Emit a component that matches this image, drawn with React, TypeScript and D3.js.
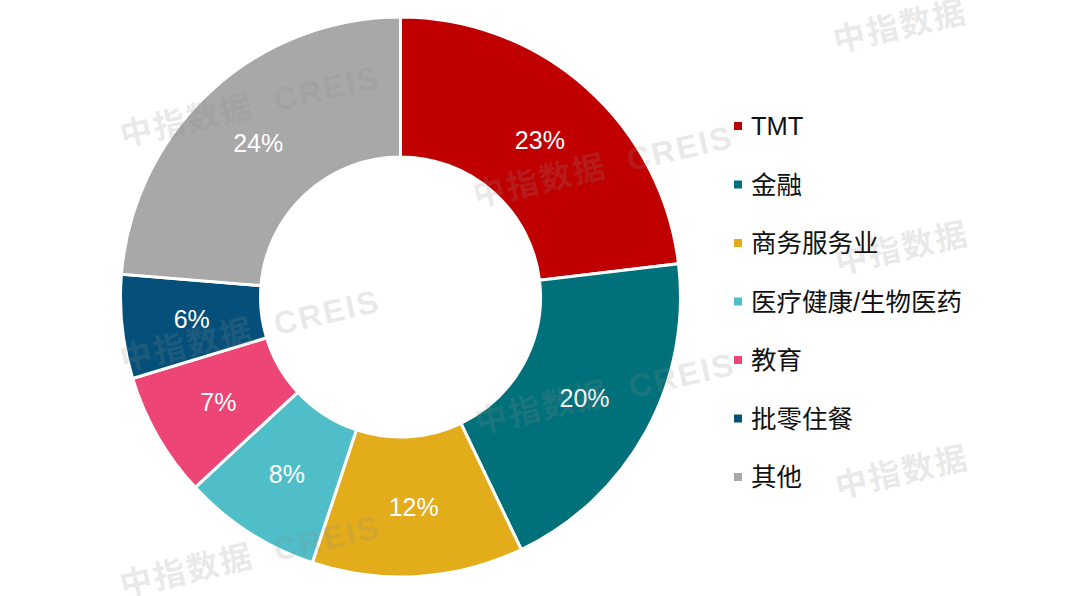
import React from "react";
import * as d3 from "d3";

const categories = ["TMT", "金融", "商务服务业", "医疗健康/生物医药", "教育", "批零住餐", "其他"];
const shares = [23.1, 19.8, 12.2, 8.0, 7.2, 6.0, 23.7];
const labels = ["23%", "20%", "12%", "8%", "7%", "6%", "24%"];
const colors = ["#C00000", "#00707A", "#E2AC1B", "#50BEC8", "#EE4577", "#04507A", "#A8A8A8"];

const watermarks = [
  { x: 250, y: 106, t: "中指数据  CREIS" },
  { x: 603, y: 166, t: "中指数据  CREIS" },
  { x: 250, y: 330, t: "中指数据  CREIS" },
  { x: 605, y: 393, t: "中指数据  CREIS" },
  { x: 250, y: 556, t: "中指数据  CREIS" },
  { x: 900, y: 26, t: "中指数据" },
  { x: 902, y: 248, t: "中指数据" },
  { x: 902, y: 472, t: "中指数据" },
];

export default function App() {
  const W = 1080, H = 596;
  const cx = 400.5, cy = 297;
  const rOuter = 280, rInner = 140;
  const data = categories.map((c, i) => ({ c, v: shares[i], label: labels[i], color: colors[i] }));
  const pie = d3.pie<any>().value((d) => d.v).sort(null).startAngle(0).endAngle(2 * Math.PI);
  const arcs = pie(data);
  const arc = d3.arc<any>().innerRadius(rInner).outerRadius(rOuter);
  const labelArc = d3.arc<any>().innerRadius(210).outerRadius(210);

  const legendY = d3.scaleLinear().domain([0, categories.length - 1]).range([126, 477]);

  return (
    <div style={{ position: "fixed", left: 0, top: 0, width: W, height: H, background: "#fff" }}>
      <svg width={W} height={H} style={{ display: "block" }}>
        <rect width={W} height={H} fill="#fff" />
        <g transform={`translate(${cx},${cy})`}>
          {arcs.map((a, i) => (
            <path key={i} d={arc(a) as string} fill={a.data.color} stroke="#fff" strokeWidth={3} strokeLinejoin="miter" />
          ))}
          {arcs.map((a, i) => {
            const [x, y] = labelArc.centroid(a);
            return (
              <text key={"l" + i} x={x} y={y} dy="0.36em" textAnchor="middle" fill="#fff"
                fontFamily="'Liberation Sans', Arial, sans-serif" fontSize={25}>
                {a.data.label}
              </text>
            );
          })}
        </g>
        <g>
          {watermarks.map((w, i) => (
            <text key={"w" + i} x={w.x} y={w.y} dy="0.35em" textAnchor="middle"
              transform={`rotate(-13 ${w.x} ${w.y})`}
              fill="rgba(140,140,140,0.2)" fontWeight="bold" fontSize={32} letterSpacing={2}
              fontFamily="'Liberation Sans', 'Noto Sans CJK SC', sans-serif" style={{ whiteSpace: "pre" }}>
              {w.t}
            </text>
          ))}
        </g>
        <g>
          {data.map((d, i) => (
            <g key={"g" + i} transform={`translate(734,${legendY(i)})`}>
              <rect x={0} y={-4} width={8} height={8} fill={d.color} />
              <text x={17} y={0} dy="0.36em" fill="#111" fontSize={25.5}
                fontFamily="'Liberation Sans', 'Noto Sans CJK SC', sans-serif">
                {d.c}
              </text>
            </g>
          ))}
        </g>
      </svg>
    </div>
  );
}
